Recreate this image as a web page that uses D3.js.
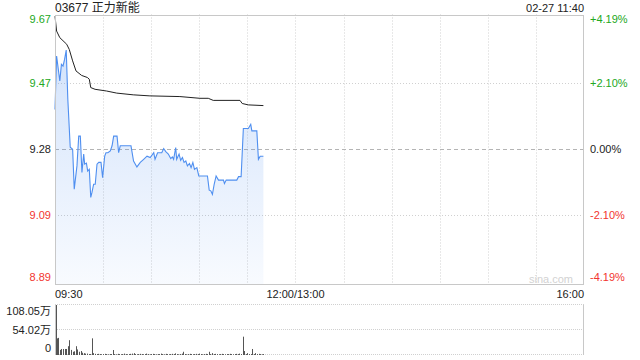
<!DOCTYPE html>
<html><head><meta charset="utf-8">
<script src="https://cdn.jsdelivr.net/npm/d3@7"></script>
<style>
html,body{margin:0;padding:0;background:#fff;}
svg{display:block;font-family:"Liberation Sans","Noto Sans CJK SC",sans-serif;}
</style></head>
<body>
<svg id="c" width="640" height="360"></svg>
<script>
// ---- data ----
const title = "03677 正力新能";
const stamp = "02-27 11:40";
const prevClose = 9.28;
const priceTicks = [9.67, 9.47, 9.28, 9.09, 8.89];
const pctTicks = ["+4.19%", "+2.10%", "0.00%", "-2.10%", "-4.19%"];
const timeLabels = ["09:30", "12:00/13:00", "16:00"];
const volTicks = ["108.05万", "54.02万", "0"];
const volMax = 108.05;
// minutes after 09:30 (trading-time axis, 330 minutes total)
const priceMin = [0,1,3,4,5,6,7,8,9.5,11,12,13.7,14.8,15.8,16.8,17.9,18.5,19.6,20.4,21.4,22.3,23.1,24.1,25.1,26.2,27.3,28.7,29.7,31,31.8,33,34.5,35.6,36.6,38.7,39.7,40.7,47.4,49,51.1,53.2,55.3,57.4,59.4,61.6,62.4,64,66.6,67.8,69.1,70.7,72.2,73.2,74,75.3,75.9,77.4,78.4,79.5,80.5,81.6,82.6,83.9,84.9,86,87,88.5,89.7,95.1,96.2,97.2,98.2,99.3,100.5,102,105.1,105.7,106.8,113.4,114.5,116.1,117.5,120.6,122.1,122.8,125.9,126.9,128,130];
const priceVal = [9.395,9.549,9.477,9.525,9.52,9.54,9.566,9.424,9.286,9.28,9.165,9.232,9.318,9.318,9.213,9.266,9.237,9.24,9.217,9.222,9.141,9.156,9.179,9.179,9.237,9.242,9.242,9.198,9.26,9.27,9.27,9.275,9.29,9.318,9.318,9.27,9.29,9.29,9.246,9.229,9.242,9.251,9.26,9.256,9.27,9.251,9.27,9.27,9.282,9.273,9.266,9.253,9.258,9.251,9.285,9.251,9.266,9.248,9.256,9.242,9.246,9.232,9.239,9.227,9.242,9.222,9.227,9.203,9.203,9.162,9.16,9.15,9.179,9.203,9.191,9.191,9.181,9.191,9.191,9.201,9.201,9.34,9.34,9.352,9.333,9.333,9.251,9.26,9.26];
const avgMin = [0,1,3,7.3,8.9,11,13.1,16.6,20.2,21.4,22.3,25,32.2,38.5,48.8,59.2,77.9,90.4,95.6,98.7,115.4,116.8,120.6,130];
const avgVal = [9.664,9.621,9.602,9.583,9.568,9.535,9.506,9.493,9.487,9.482,9.458,9.453,9.448,9.442,9.437,9.434,9.432,9.427,9.427,9.421,9.421,9.412,9.408,9.406];
// volume per minute (万股), minute 0..130
const volume = [108.05,36,37,11,13,13,13,13,19,32,11,7,8,19,12,7,8.6,5,4,3,3,2,2,36,4,2.5,2,2.5,2,1.5,2,2.5,2,1.5,2,2,10.8,2,1.5,2.5,2,1.5,2,3,2,1.5,2,2.5,3,4,2,1.5,2,2.5,2,1.5,2,3,2,1.5,2,2.5,2,1.5,2,2,3,2,1.5,2.5,2,1.5,2,2.5,2,3.5,2,1.5,2,3,7,2,1.5,2,2.5,2,1.5,2,2.5,2,3,2,1.5,2,2.5,2,7,2,4,2,2.5,2,1.5,2,2.5,2,1.5,2,2,2.5,2,1.5,2,2.5,2,3,2,39.6,8.6,2,4,2,2,13,2,4,2,2.5,2,1.5,2];

// ---- layout ----
const L = 55, R = 584, T = 14.5, B = 284, VT = 305, VB = 355;
const svg = d3.select("#c");
const x = d3.scaleLinear().domain([0, 330]).range([L, R]);
const y = d3.scaleLinear().domain([prevClose * (1 - 0.0419), prevClose * (1 + 0.0419)]).range([B, T]);
const yv = d3.scaleLinear().domain([0, volMax]).range([VB, VT]);
const green = "#22a822", red = "#f2352f", grid = "#d0d0d0";

// gradient
const defs = svg.append("defs");
const g = defs.append("linearGradient").attr("id","fillg").attr("gradientUnits","userSpaceOnUse")
  .attr("x1",0).attr("x2",0).attr("y1",T).attr("y2",B);
g.append("stop").attr("offset","0%").attr("stop-color","#4f8ff0").attr("stop-opacity",0.28);
g.append("stop").attr("offset","100%").attr("stop-color","#4f8ff0").attr("stop-opacity",0.04);

// vertical grid (every 30 minutes)
const vTicks = d3.range(30, 330, 30);
svg.append("g").selectAll("line").data(vTicks).join("line")
  .attr("x1", d => Math.round(x(d)) + 0.5).attr("x2", d => Math.round(x(d)) + 0.5)
  .attr("y1", T).attr("y2", B)
  .attr("stroke", grid).attr("stroke-dasharray", "1,2");
// horizontal grid
svg.append("g").selectAll("line").data([priceTicks[1], priceTicks[3]]).join("line")
  .attr("x1", L).attr("x2", R)
  .attr("y1", d => Math.round(y(d)) + 0.5).attr("y2", d => Math.round(y(d)) + 0.5)
  .attr("stroke", grid).attr("stroke-dasharray", "1,2");
svg.append("line").attr("x1", L).attr("x2", R)
  .attr("y1", Math.round(y(prevClose)) + 0.5).attr("y2", Math.round(y(prevClose)) + 0.5)
  .attr("stroke", "#b4b4b4").attr("stroke-dasharray", "4,3");

// price area + line
const pts = priceMin.map((m, i) => [m, priceVal[i]]);
svg.append("path").datum(pts)
  .attr("d", d3.area().x(d => x(d[0])).y0(B).y1(d => y(d[1])))
  .attr("fill", "url(#fillg)");
svg.append("path").datum(pts)
  .attr("d", d3.line().x(d => x(d[0])).y(d => y(d[1])))
  .attr("fill", "none").attr("stroke", "#4f8ff0").attr("stroke-width", 1.1);
const apts = avgMin.map((m, i) => [m, avgVal[i]]);
svg.append("path").datum(apts)
  .attr("d", d3.line().x(d => x(d[0])).y(d => y(d[1])))
  .attr("fill", "none").attr("stroke", "#222").attr("stroke-width", 1);

// frame
svg.append("rect").attr("x", L + 0.5).attr("y", Math.round(T) + 0.5)
  .attr("width", R - L - 1).attr("height", B - Math.round(T))
  .attr("fill", "none").attr("stroke", "#c8c8c8");

// watermark
svg.append("text").attr("x", 573).attr("y", 283).attr("text-anchor", "end")
  .attr("font-size", 11).attr("fill", "#d2d2d2").text("sina.com");

// price labels
const pc = [green, green, "#222", red, red];
const labY = [y(priceTicks[0]) + 5.5, y(priceTicks[1]), y(priceTicks[2]), y(priceTicks[3]), y(priceTicks[4]) - 7.5];
svg.append("g").selectAll("text").data(priceTicks).join("text")
  .attr("x", 51).attr("y", (d, i) => labY[i]).attr("dy", "0.35em")
  .attr("text-anchor", "end").attr("font-size", 11).attr("fill", (d, i) => pc[i])
  .text(d => d.toFixed(2));
svg.append("g").selectAll("text").data(pctTicks).join("text")
  .attr("x", 590).attr("y", (d, i) => labY[i]).attr("dy", "0.35em")
  .attr("font-size", 11).attr("fill", (d, i) => pc[i]).text(d => d);

// title
svg.append("text").attr("x", L).attr("y", 12).attr("font-size", 12).attr("fill", "#222").text(title);
svg.append("text").attr("x", R).attr("y", 12).attr("text-anchor", "end").attr("font-size", 11).attr("fill", "#222").text(stamp);

// time labels
const tPos = [[x(0), "start"], [x(150), "middle"], [x(330), "end"]];
svg.append("g").selectAll("text").data(timeLabels).join("text")
  .attr("x", (d, i) => tPos[i][0]).attr("y", 297.5)
  .attr("text-anchor", (d, i) => tPos[i][1]).attr("font-size", 11).attr("fill", "#222").text(d => d);

// volume panel grid
svg.append("g").selectAll("line").data([volMax, volMax / 2, 0]).join("line")
  .attr("x1", L).attr("x2", R)
  .attr("y1", d => Math.round(yv(d)) - 0.5).attr("y2", d => Math.round(yv(d)) - 0.5)
  .attr("stroke", grid).attr("stroke-dasharray", "1,1");
svg.append("line").attr("x1", L + 0.5).attr("x2", L + 0.5).attr("y1", VT).attr("y2", VB).attr("stroke", "#c8c8c8");
svg.append("line").attr("x1", R - 0.5).attr("x2", R - 0.5).attr("y1", VT).attr("y2", VB).attr("stroke", "#c8c8c8");
svg.append("g").selectAll("text").data(volTicks).join("text")
  .attr("x", 51).attr("y", (d, i) => [311.5, 330, 348.5][i]).attr("dy", "0.35em")
  .attr("text-anchor", "end").attr("font-size", 11).attr("fill", "#222").text(d => d);

// volume bars
svg.append("g").selectAll("rect").data(volume).join("rect")
  .attr("x", (d, i) => Math.round(x(i)) + (i === 0 ? 1 : 0))
  .attr("width", 1)
  .attr("y", d => yv(d)).attr("height", d => VB - yv(d))
  .attr("fill", "#555");
</script>
</body></html>
